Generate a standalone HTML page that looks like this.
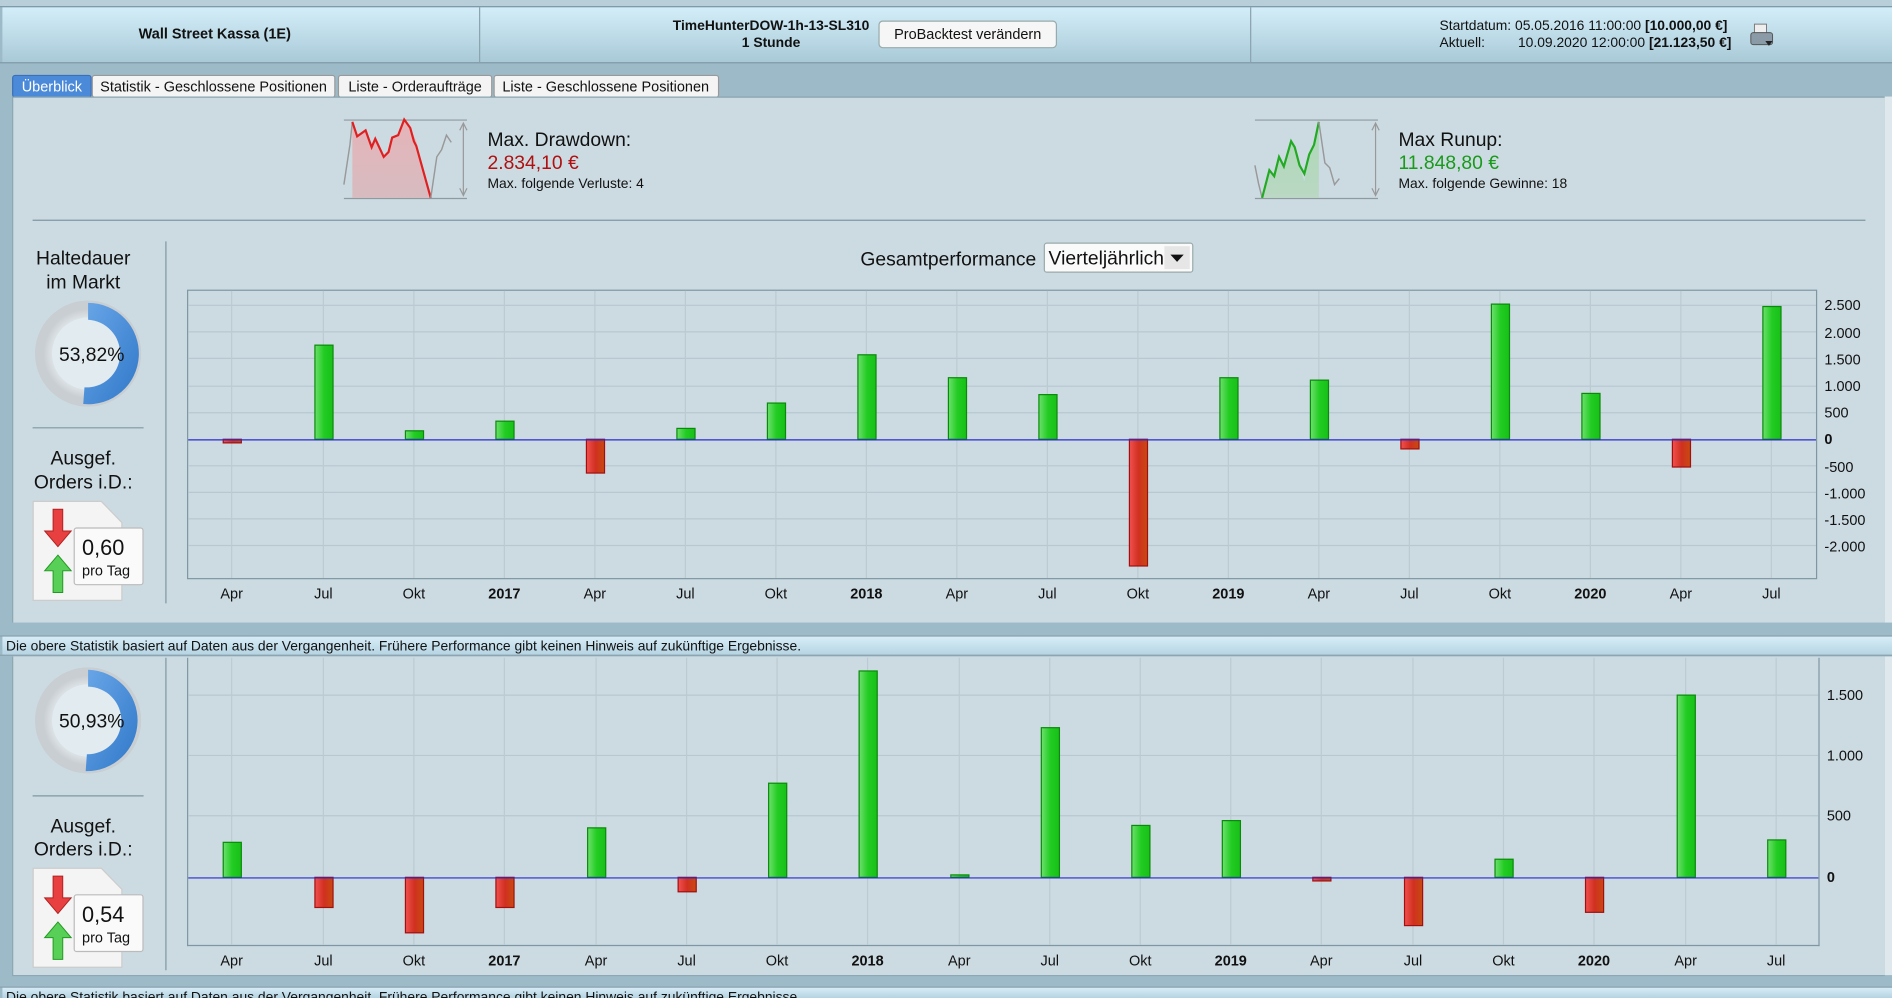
<!DOCTYPE html>
<html><head><meta charset="utf-8"><style>
html,body{margin:0;padding:0;width:1892px;height:998px;overflow:hidden;background:#9dbac8}
svg{display:block;font-family:"Liberation Sans",Arial,sans-serif}
</style></head><body>
<svg width="1892" height="998" viewBox="0 0 1568 827" preserveAspectRatio="none" xmlns="http://www.w3.org/2000/svg">
<defs>
<linearGradient id="hdr" x1="0" y1="0" x2="0" y2="1"><stop offset="0" stop-color="#d3eef9"/><stop offset="1" stop-color="#a9c9d7"/></linearGradient>
<linearGradient id="disc" x1="0" y1="0" x2="0" y2="1"><stop offset="0" stop-color="#d8eef8"/><stop offset="1" stop-color="#b5d3e2"/></linearGradient>
<linearGradient id="g" x1="0" y1="0" x2="1" y2="0"><stop offset="0" stop-color="#6ee06e"/><stop offset="0.5" stop-color="#22cc22"/><stop offset="1" stop-color="#18c018"/></linearGradient>
<linearGradient id="r" x1="0" y1="0" x2="1" y2="0"><stop offset="0" stop-color="#f25050"/><stop offset="0.5" stop-color="#d03020"/><stop offset="1" stop-color="#c84a10"/></linearGradient>
<linearGradient id="ring" x1="0" y1="0" x2="1" y2="1"><stop offset="0" stop-color="#6aa6e8"/><stop offset="1" stop-color="#2f78c8"/></linearGradient>
<radialGradient id="dn" cx="0.5" cy="0.5" r="0.5"><stop offset="0.7" stop-color="#e8edf0"/><stop offset="1" stop-color="#c8ced2"/></radialGradient>
<linearGradient id="ddf" x1="0" y1="0" x2="0" y2="1"><stop offset="0" stop-color="#e8b0b4"/><stop offset="1" stop-color="#d8b8bc"/></linearGradient>
<linearGradient id="ruf" x1="0" y1="0" x2="0" y2="1"><stop offset="0" stop-color="#a8d8b0"/><stop offset="1" stop-color="#b8d8c0"/></linearGradient>
</defs>
<!-- top strip -->
<rect x="0" y="0" width="1568" height="5" fill="#b8cfd9"/>
<!-- header -->
<rect x="2" y="6" width="1566" height="46" fill="url(#hdr)"/>
<line x1="0" y1="5.5" x2="1568" y2="5.5" stroke="#7f9aa8"/>
<line x1="0" y1="52" x2="1568" y2="52" stroke="#7f9aa8"/>
<line x1="397.5" y1="6" x2="397.5" y2="52" stroke="#8aa2ae"/>
<line x1="1036.5" y1="6" x2="1036.5" y2="52" stroke="#8aa2ae"/>
<text x="178" y="32" font-size="12" font-weight="bold" text-anchor="middle" fill="#111">Wall Street Kassa (1E)</text>
<text x="639" y="25" font-size="11.5" font-weight="bold" text-anchor="middle" fill="#111">TimeHunterDOW-1h-13-SL310</text>
<text x="639" y="39" font-size="11.5" font-weight="bold" text-anchor="middle" fill="#111">1 Stunde</text>
<rect x="728.5" y="17.5" width="147" height="22" rx="3" fill="#f6f6f6" stroke="#9aa"/>
<text x="802" y="32.5" font-size="12" text-anchor="middle" fill="#111">ProBacktest verändern</text>
<text x="1193" y="25" font-size="11.5" fill="#111">Startdatum: 05.05.2016 11:00:00 <tspan font-weight="bold">[10.000,00 €]</tspan></text>
<text x="1193" y="39" font-size="11.5" fill="#111">Aktuell:<tspan x="1258">10.09.2020 12:00:00 </tspan><tspan font-weight="bold">[21.123,50 €]</tspan></text>
<rect x="1454" y="20" width="10" height="8" fill="#eee" stroke="#777" stroke-width="0.8"/>
<rect x="1451" y="27" width="18" height="10" rx="2" fill="#8a9aa6" stroke="#555" stroke-width="0.8"/>
<path d="M1463 34 l6 0 l-3 4z" fill="#222"/>
<!-- tabs -->
<rect x="0" y="53" width="1568" height="27" fill="#9dbac8"/>
<rect x="10.5" y="62.5" width="65" height="18" rx="2" fill="#4b8ad8" stroke="#3a70b8"/>
<text x="43" y="76" font-size="12" text-anchor="middle" fill="#fff">Überblick</text>
<rect x="76.5" y="62.5" width="201" height="18" rx="2" fill="#f4f4f4" stroke="#999"/>
<text x="177" y="76" font-size="12" text-anchor="middle" fill="#111">Statistik - Geschlossene Positionen</text>
<rect x="280.5" y="62.5" width="127" height="18" rx="2" fill="#f4f4f4" stroke="#999"/>
<text x="344" y="76" font-size="12" text-anchor="middle" fill="#111">Liste - Orderaufträge</text>
<rect x="409.5" y="62.5" width="186" height="18" rx="2" fill="#f4f4f4" stroke="#999"/>
<text x="502" y="76" font-size="12" text-anchor="middle" fill="#111">Liste - Geschlossene Positionen</text>
<!-- main panel -->
<rect x="10" y="80" width="1552" height="436" fill="#ccdbe2"/>
<line x1="10" y1="80.5" x2="1562" y2="80.5" stroke="#8aa4b0"/>
<line x1="10.5" y1="80" x2="10.5" y2="516" stroke="#8aa4b0"/>
<rect x="1562" y="80" width="6" height="436" fill="#dfe8ec"/>
<!-- drawdown icon -->
<line x1="285" y1="99.5" x2="387" y2="99.5" stroke="#8e9aa0"/>
<line x1="285" y1="164.5" x2="387" y2="164.5" stroke="#8e9aa0"/>
<path d="M292 101 L296 113 L303 108 L308 122 L311 115 L318 130 L322 126 L325 114 L330 112 L335 99 L340 106 L345 117 L357 164 L292 164Z" fill="url(#ddf)" opacity="0.9"/>
<polyline points="285,153 290,120 292,101" fill="none" stroke="#999" stroke-width="1.2"/>
<polyline points="292,101 296,113 303,108 308,122 311,115 318,130 322,126 325,114 330,112 335,99 340,106 343,117 345,121 357,164" fill="none" stroke="#e02020" stroke-width="1.8"/>
<polyline points="357,164 362,130 366,124 370,112 374,118" fill="none" stroke="#999" stroke-width="1.2"/>
<line x1="384" y1="103" x2="384" y2="161" stroke="#999"/>
<path d="M381 108 l3 -6 l3 6 M381 156 l3 6 l3 -6" fill="none" stroke="#999"/>
<text x="404" y="121" font-size="16" fill="#111">Max. Drawdown:</text>
<text x="404" y="140" font-size="16" fill="#b01010">2.834,10 €</text>
<text x="404" y="156" font-size="11.5" fill="#111">Max. folgende Verluste: 4</text>
<!-- runup icon -->
<line x1="1040" y1="99.5" x2="1142" y2="99.5" stroke="#8e9aa0"/>
<line x1="1040" y1="164.5" x2="1142" y2="164.5" stroke="#8e9aa0"/>
<path d="M1046 164 L1052 141 L1056 146 L1060 130 L1064 138 L1070 117 L1073 122 L1077 138 L1081 150 L1085 128 L1089 120 L1093 101 L1093 164Z" fill="url(#ruf)" opacity="0.9"/>
<polyline points="1040,137 1043,152 1046,164" fill="none" stroke="#999" stroke-width="1.2"/>
<polyline points="1046,164 1052,141 1056,146 1060,130 1064,138 1070,117 1073,122 1077,137 1081,144 1085,128 1089,120 1093,101" fill="none" stroke="#22aa22" stroke-width="1.8"/>
<polyline points="1093,101 1098,135 1102,139 1106,153 1110,148" fill="none" stroke="#999" stroke-width="1.2"/>
<line x1="1140" y1="103" x2="1140" y2="161" stroke="#999"/>
<path d="M1137 108 l3 -6 l3 6 M1137 156 l3 6 l3 -6" fill="none" stroke="#999"/>
<text x="1159" y="121" font-size="16" fill="#111">Max Runup:</text>
<text x="1159" y="140" font-size="16" fill="#1a9a1a">11.848,80 €</text>
<text x="1159" y="156" font-size="11.5" fill="#111">Max. folgende Gewinne: 18</text>
<line x1="27" y1="182.5" x2="1546" y2="182.5" stroke="#7f97a3"/>
<!-- left column top -->
<text x="69" y="219" font-size="16" text-anchor="middle" fill="#111">Haltedauer</text>
<text x="69" y="239" font-size="16" text-anchor="middle" fill="#111">im Markt</text>
<g id="donut1">
<circle cx="73" cy="293" r="37" fill="none" stroke="url(#dn)" stroke-width="14"/>
<circle cx="73" cy="293" r="30" fill="#e2ebf0"/>
<path d="M73 251 A42 42 0 1 1 69 334.8 L70 321 A28 28 0 1 0 73 265Z" fill="url(#ring)"/>
</g>
<text x="76" y="299" font-size="16" text-anchor="middle" fill="#111">53,82%</text>
<line x1="27" y1="354.5" x2="119" y2="354.5" stroke="#7f97a3"/>
<text x="69" y="385" font-size="16" text-anchor="middle" fill="#111">Ausgef.</text>
<text x="69" y="405" font-size="16" text-anchor="middle" fill="#111">Orders i.D.:</text>
<g>
<path d="M27.5 415.5 L84 415.5 L101 433 L101 497.5 L27.5 497.5Z" fill="#f4f4f4" stroke="#ccc"/>
<path d="M44 422 h8 v18 h7 l-11 13 l-11 -13 h7z" fill="#e84040" stroke="#b02020" stroke-width="0.8"/>
<path d="M48 460 l11 13 h-7 v18 h-8 v-18 h-7z" fill="#58d058" stroke="#229922" stroke-width="0.8"/>
<rect x="61.5" y="437.5" width="57" height="47" rx="2" fill="#fafafa" stroke="#bbb"/>
<text x="68" y="460" font-size="18" fill="#111">0,60</text>
<text x="68" y="477" font-size="12" fill="#111">pro Tag</text>
</g>
<line x1="137.5" y1="200" x2="137.5" y2="500" stroke="#7f97a3"/>
<!-- title -->
<text x="713" y="220" font-size="16" fill="#111">Gesamtperformance</text>
<rect x="865.5" y="201.5" width="123" height="24" rx="2" fill="#fafafa" stroke="#9aa"/>
<text x="869" y="219" font-size="16" fill="#111">Vierteljährlich</text>
<rect x="965" y="204" width="21" height="19" fill="#e6e6e6"/>
<path d="M970 211 h11 l-5.5 6z" fill="#111"/>
<!-- top plot -->
<rect x="155.5" y="240.5" width="1350" height="239" fill="#ccdbe2" stroke="#7f97a3"/>
<g stroke="#b8c8d0" stroke-width="1">
<line x1="156" y1="253" x2="1505" y2="253"/><line x1="156" y1="275" x2="1505" y2="275"/><line x1="156" y1="297" x2="1505" y2="297"/><line x1="156" y1="320" x2="1505" y2="320"/><line x1="156" y1="342" x2="1505" y2="342"/><line x1="156" y1="386" x2="1505" y2="386"/><line x1="156" y1="408" x2="1505" y2="408"/><line x1="156" y1="430" x2="1505" y2="430"/><line x1="156" y1="452" x2="1505" y2="452"/>
</g>
<g stroke="#bccad1">
<line x1="192" y1="241" x2="192" y2="479"/><line x1="268" y1="241" x2="268" y2="479"/><line x1="343" y1="241" x2="343" y2="479"/><line x1="418" y1="241" x2="418" y2="479"/><line x1="493" y1="241" x2="493" y2="479"/><line x1="568" y1="241" x2="568" y2="479"/><line x1="643" y1="241" x2="643" y2="479"/><line x1="718" y1="241" x2="718" y2="479"/><line x1="793" y1="241" x2="793" y2="479"/><line x1="868" y1="241" x2="868" y2="479"/><line x1="943" y1="241" x2="943" y2="479"/><line x1="1018" y1="241" x2="1018" y2="479"/><line x1="1093" y1="241" x2="1093" y2="479"/><line x1="1168" y1="241" x2="1168" y2="479"/><line x1="1243" y1="241" x2="1243" y2="479"/><line x1="1318" y1="241" x2="1318" y2="479"/><line x1="1393" y1="241" x2="1393" y2="479"/><line x1="1468" y1="241" x2="1468" y2="479"/>
</g>
<g stroke-width="1">
<rect x="185" y="364" width="15" height="3" fill="url(#r)" stroke="#a01010"/>
<rect x="261" y="286" width="15" height="78" fill="url(#g)" stroke="#0a8a0a"/>
<rect x="336" y="357" width="15" height="7" fill="url(#g)" stroke="#0a8a0a"/>
<rect x="411" y="349" width="15" height="15" fill="url(#g)" stroke="#0a8a0a"/>
<rect x="486" y="364" width="15" height="28" fill="url(#r)" stroke="#a01010"/>
<rect x="561" y="355" width="15" height="9" fill="url(#g)" stroke="#0a8a0a"/>
<rect x="636" y="334" width="15" height="30" fill="url(#g)" stroke="#0a8a0a"/>
<rect x="711" y="294" width="15" height="70" fill="url(#g)" stroke="#0a8a0a"/>
<rect x="786" y="313" width="15" height="51" fill="url(#g)" stroke="#0a8a0a"/>
<rect x="861" y="327" width="15" height="37" fill="url(#g)" stroke="#0a8a0a"/>
<rect x="936" y="364" width="15" height="105" fill="url(#r)" stroke="#a01010"/>
<rect x="1011" y="313" width="15" height="51" fill="url(#g)" stroke="#0a8a0a"/>
<rect x="1086" y="315" width="15" height="49" fill="url(#g)" stroke="#0a8a0a"/>
<rect x="1161" y="364" width="15" height="8" fill="url(#r)" stroke="#a01010"/>
<rect x="1236" y="252" width="15" height="112" fill="url(#g)" stroke="#0a8a0a"/>
<rect x="1311" y="326" width="15" height="38" fill="url(#g)" stroke="#0a8a0a"/>
<rect x="1386" y="364" width="15" height="23" fill="url(#r)" stroke="#a01010"/>
<rect x="1461" y="254" width="15" height="110" fill="url(#g)" stroke="#0a8a0a"/>
</g>
<line x1="156" y1="364.5" x2="1505" y2="364.5" stroke="#2a2ad0"/>
<g font-size="12" fill="#111">
<text x="1512" y="257">2.500</text><text x="1512" y="280">2.000</text><text x="1512" y="302">1.500</text><text x="1512" y="324">1.000</text><text x="1512" y="346">500</text><text x="1512" y="368" font-weight="bold">0</text><text x="1512" y="391">-500</text><text x="1512" y="413">-1.000</text><text x="1512" y="435">-1.500</text><text x="1512" y="457">-2.000</text>
</g>
<g font-size="12" fill="#111" text-anchor="middle">
<text x="192" y="496">Apr</text><text x="268" y="496">Jul</text><text x="343" y="496">Okt</text><text x="418" y="496" font-weight="bold">2017</text><text x="493" y="496">Apr</text><text x="568" y="496">Jul</text><text x="643" y="496">Okt</text><text x="718" y="496" font-weight="bold">2018</text><text x="793" y="496">Apr</text><text x="868" y="496">Jul</text><text x="943" y="496">Okt</text><text x="1018" y="496" font-weight="bold">2019</text><text x="1093" y="496">Apr</text><text x="1168" y="496">Jul</text><text x="1243" y="496">Okt</text><text x="1318" y="496" font-weight="bold">2020</text><text x="1393" y="496">Apr</text><text x="1468" y="496">Jul</text>
</g>
<!-- disclaimer 1 -->
<rect x="0" y="516" width="1568" height="11" fill="#9dbac8"/>
<rect x="2" y="527" width="1566" height="16" fill="url(#disc)"/>
<line x1="0" y1="527" x2="1568" y2="527" stroke="#8aa2ae"/>
<line x1="0" y1="543" x2="1568" y2="543" stroke="#8aa2ae"/>
<text x="5" y="539" font-size="11.5" fill="#111">Die obere Statistik basiert auf Daten aus der Vergangenheit. Frühere Performance gibt keinen Hinweis auf zukünftige Ergebnisse.</text>
<!-- second panel -->
<rect x="10" y="544" width="1552" height="264" fill="#ccdbe2"/>
<line x1="10.5" y1="544" x2="10.5" y2="808" stroke="#8aa4b0"/>
<line x1="10" y1="808.5" x2="1562" y2="808.5" stroke="#8aa4b0"/>
<rect x="1562" y="544" width="6" height="264" fill="#dfe8ec"/>
<circle cx="73" cy="597" r="37" fill="none" stroke="url(#dn)" stroke-width="14"/>
<circle cx="73" cy="597" r="30" fill="#e2ebf0"/>
<path d="M73 555 A42 42 0 1 1 71 639 L72 625 A28 28 0 1 0 73 569Z" fill="url(#ring)"/>
<text x="76" y="603" font-size="16" text-anchor="middle" fill="#111">50,93%</text>
<line x1="27" y1="659.5" x2="119" y2="659.5" stroke="#7f97a3"/>
<text x="69" y="690" font-size="16" text-anchor="middle" fill="#111">Ausgef.</text>
<text x="69" y="709" font-size="16" text-anchor="middle" fill="#111">Orders i.D.:</text>
<g transform="translate(0,304)">
<path d="M27.5 415.5 L84 415.5 L101 433 L101 497.5 L27.5 497.5Z" fill="#f4f4f4" stroke="#ccc"/>
<path d="M44 422 h8 v18 h7 l-11 13 l-11 -13 h7z" fill="#e84040" stroke="#b02020" stroke-width="0.8"/>
<path d="M48 460 l11 13 h-7 v18 h-8 v-18 h-7z" fill="#58d058" stroke="#229922" stroke-width="0.8"/>
<rect x="61.5" y="437.5" width="57" height="47" rx="2" fill="#fafafa" stroke="#bbb"/>
<text x="68" y="460" font-size="18" fill="#111">0,54</text>
<text x="68" y="477" font-size="12" fill="#111">pro Tag</text>
</g>
<line x1="137.5" y1="545" x2="137.5" y2="804" stroke="#7f97a3"/>
<line x1="155.5" y1="545" x2="155.5" y2="784" stroke="#7f97a3"/>
<line x1="1507.5" y1="545" x2="1507.5" y2="784" stroke="#7f97a3"/>
<line x1="155" y1="783.5" x2="1508" y2="783.5" stroke="#7f97a3"/>
<g stroke="#b8c8d0">
<line x1="156" y1="576" x2="1507" y2="576"/><line x1="156" y1="626" x2="1507" y2="626"/><line x1="156" y1="676" x2="1507" y2="676"/>
</g>
<g stroke="#bccad1">
<line x1="192" y1="545" x2="192" y2="783"/><line x1="268" y1="545" x2="268" y2="783"/><line x1="343" y1="545" x2="343" y2="783"/><line x1="418" y1="545" x2="418" y2="783"/><line x1="494" y1="545" x2="494" y2="783"/><line x1="569" y1="545" x2="569" y2="783"/><line x1="644" y1="545" x2="644" y2="783"/><line x1="719" y1="545" x2="719" y2="783"/><line x1="795" y1="545" x2="795" y2="783"/><line x1="870" y1="545" x2="870" y2="783"/><line x1="945" y1="545" x2="945" y2="783"/><line x1="1020" y1="545" x2="1020" y2="783"/><line x1="1095" y1="545" x2="1095" y2="783"/><line x1="1171" y1="545" x2="1171" y2="783"/><line x1="1246" y1="545" x2="1246" y2="783"/><line x1="1321" y1="545" x2="1321" y2="783"/><line x1="1397" y1="545" x2="1397" y2="783"/><line x1="1472" y1="545" x2="1472" y2="783"/>
</g>
<g>
<rect x="185" y="698" width="15" height="29" fill="url(#g)" stroke="#0a8a0a"/>
<rect x="261" y="727" width="15" height="25" fill="url(#r)" stroke="#a01010"/>
<rect x="336" y="727" width="15" height="46" fill="url(#r)" stroke="#a01010"/>
<rect x="411" y="727" width="15" height="25" fill="url(#r)" stroke="#a01010"/>
<rect x="487" y="686" width="15" height="41" fill="url(#g)" stroke="#0a8a0a"/>
<rect x="562" y="727" width="15" height="12" fill="url(#r)" stroke="#a01010"/>
<rect x="637" y="649" width="15" height="78" fill="url(#g)" stroke="#0a8a0a"/>
<rect x="712" y="556" width="15" height="171" fill="url(#g)" stroke="#0a8a0a"/>
<rect x="788" y="725" width="15" height="2" fill="url(#g)" stroke="#0a8a0a"/>
<rect x="863" y="603" width="15" height="124" fill="url(#g)" stroke="#0a8a0a"/>
<rect x="938" y="684" width="15" height="43" fill="url(#g)" stroke="#0a8a0a"/>
<rect x="1013" y="680" width="15" height="47" fill="url(#g)" stroke="#0a8a0a"/>
<rect x="1088" y="727" width="15" height="3" fill="url(#r)" stroke="#a01010"/>
<rect x="1164" y="727" width="15" height="40" fill="url(#r)" stroke="#a01010"/>
<rect x="1239" y="712" width="15" height="15" fill="url(#g)" stroke="#0a8a0a"/>
<rect x="1314" y="727" width="15" height="29" fill="url(#r)" stroke="#a01010"/>
<rect x="1390" y="576" width="15" height="151" fill="url(#g)" stroke="#0a8a0a"/>
<rect x="1465" y="696" width="15" height="31" fill="url(#g)" stroke="#0a8a0a"/>
</g>
<line x1="156" y1="727.5" x2="1507" y2="727.5" stroke="#2a2ad0"/>
<g font-size="12" fill="#111">
<text x="1514" y="580">1.500</text><text x="1514" y="630">1.000</text><text x="1514" y="680">500</text><text x="1514" y="731" font-weight="bold">0</text>
</g>
<g font-size="12" fill="#111" text-anchor="middle">
<text x="192" y="800">Apr</text><text x="268" y="800">Jul</text><text x="343" y="800">Okt</text><text x="418" y="800" font-weight="bold">2017</text><text x="494" y="800">Apr</text><text x="569" y="800">Jul</text><text x="644" y="800">Okt</text><text x="719" y="800" font-weight="bold">2018</text><text x="795" y="800">Apr</text><text x="870" y="800">Jul</text><text x="945" y="800">Okt</text><text x="1020" y="800" font-weight="bold">2019</text><text x="1095" y="800">Apr</text><text x="1171" y="800">Jul</text><text x="1246" y="800">Okt</text><text x="1321" y="800" font-weight="bold">2020</text><text x="1397" y="800">Apr</text><text x="1472" y="800">Jul</text>
</g>
<rect x="0" y="809" width="1568" height="9" fill="#9dbac8"/>
<rect x="2" y="818" width="1566" height="9" fill="url(#disc)"/>
<line x1="0" y1="818" x2="1568" y2="818" stroke="#8aa2ae"/>
<text x="5" y="830" font-size="11.5" fill="#111">Die obere Statistik basiert auf Daten aus der Vergangenheit. Frühere Performance gibt keinen Hinweis auf zukünftige Ergebnisse.</text>
</svg>
</body></html>
